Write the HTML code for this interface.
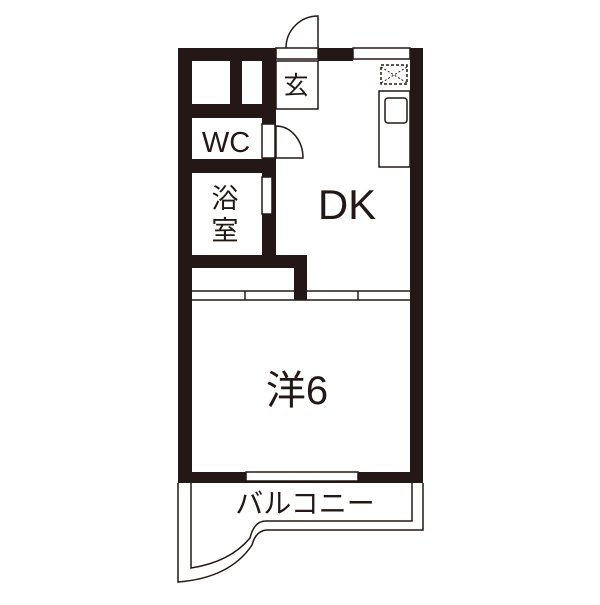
<!DOCTYPE html>
<html><head><meta charset="utf-8"><style>
body{margin:0;background:#fff;width:600px;height:600px;overflow:hidden}
</style></head><body>
<svg width="600" height="600" viewBox="0 0 600 600" xmlns="http://www.w3.org/2000/svg">
<g fill="#231815" stroke="none">
<rect x="178" y="48" width="14" height="435"/>
<rect x="410" y="48" width="13" height="435"/>
<rect x="178" y="48" width="98" height="13"/>
<rect x="318" y="48" width="35" height="13"/>
<rect x="178" y="472" width="245" height="11"/>
<rect x="230" y="61" width="12" height="50"/>
<rect x="262" y="61" width="14" height="207"/>
<rect x="192" y="104" width="84" height="14"/>
<rect x="192" y="159" width="84" height="14"/>
<rect x="192" y="255" width="115" height="13"/>
<rect x="294" y="255" width="13" height="45"/>
</g>
<g fill="#fff" stroke="#231815" stroke-width="1.5">
<rect x="353" y="48" width="57" height="11"/>
<rect x="276" y="48" width="42" height="11"/>
<rect x="262" y="124" width="13" height="34"/>
<rect x="262" y="177" width="10" height="37"/>
<rect x="246" y="472" width="112" height="9"/>
<rect x="276" y="61" width="42" height="48"/>
<rect x="379" y="91" width="31" height="76"/>
<rect x="385" y="98" width="22" height="25" rx="3"/>
</g>
<rect x="381" y="65" width="26" height="19" fill="none" stroke="#231815" stroke-width="1.5" stroke-dasharray="3,2"/>
<path d="M381,67 L407,83 M407,67 L381,83" stroke="#231815" stroke-width="1" stroke-dasharray="2,2"/>
<g fill="none" stroke="#231815" stroke-width="1.5">
<path d="M318,48 L318,16 A32,32 0 0 0 286,48"/>
<path d="M276,126 L276,158 L303,158 A27,32 0 0 0 276,126"/>
<path d="M192,291 H410 M192,300 H410 M245,291 V300 M358,291 V300"/>
<path d="M178,483 V582 Q230,578 252,545 Q256,530 268,530 H423 V483"/>
<path d="M191,483 V568 Q230,562 250,538 Q254,521 266,521 H412 V483"/>
</g>
<g fill="#231815" font-family="Liberation Sans, Noto Sans CJK JP, sans-serif" text-anchor="middle">
<text x="296" y="94" font-size="25">玄</text>
<text x="226" y="152" font-size="29">WC</text>
<text x="225" y="208" font-size="27">浴</text>
<text x="225" y="240" font-size="27">室</text>
<text x="347" y="219" font-size="42">DK</text>
<text x="297" y="404" font-size="40">洋6</text>
<text x="305" y="513" font-size="28">バルコニー</text>
</g>
</svg>
</body></html>
